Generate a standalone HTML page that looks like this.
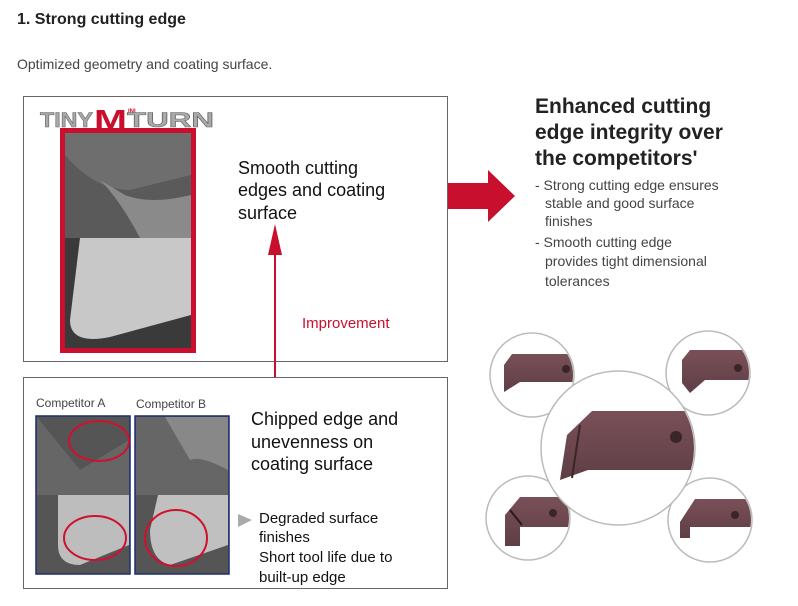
<!DOCTYPE html>
<html><head><meta charset="utf-8"><style>
body{margin:0;background:#fff;width:798px;height:601px;overflow:hidden;font-family:"Liberation Sans",sans-serif}
</style></head><body>
<svg width="798" height="601" viewBox="0 0 798 601" xmlns="http://www.w3.org/2000/svg" font-family="Liberation Sans, sans-serif">
<defs>
<linearGradient id="br" x1="0" y1="0" x2="0" y2="1"><stop offset="0" stop-color="#7a5058"/><stop offset="1" stop-color="#5e3e45"/></linearGradient>
<clipPath id="c1"><circle cx="532" cy="375" r="41"/></clipPath>
<clipPath id="c2"><circle cx="708" cy="373" r="41"/></clipPath>
<clipPath id="c3"><circle cx="528" cy="518" r="41"/></clipPath>
<clipPath id="c4"><circle cx="710" cy="520" r="41"/></clipPath>
<clipPath id="c5"><circle cx="618" cy="448" r="76"/></clipPath>
</defs>
<text x="17" y="24" font-size="16" font-weight="bold" fill="#222">1. Strong cutting edge</text>
<text x="17" y="69" font-size="14" fill="#444">Optimized geometry and coating surface.</text>

<!-- top box -->
<rect x="23.5" y="96.5" width="424" height="265" fill="#fff" stroke="#666" stroke-width="1"/>
<text x="40" y="127" font-size="21" font-weight="bold" fill="#aaa" stroke="#666" stroke-width="0.6" textLength="53" lengthAdjust="spacingAndGlyphs">TINY</text>
<text x="94" y="129" font-size="28" font-weight="bold" fill="#c8102e" textLength="33" lengthAdjust="spacingAndGlyphs">M</text>
<text x="128" y="113" font-size="6" font-weight="bold" fill="#c8102e">INI</text>
<text x="127" y="127" font-size="21" font-weight="bold" fill="#aaa" stroke="#666" stroke-width="0.6" textLength="87" lengthAdjust="spacingAndGlyphs">TURN</text>
<rect x="60" y="128" width="136" height="225" fill="#c8102e"/>
<rect x="65" y="133" width="126" height="105" fill="#5a5a5a"/>
<path d="M65 133 L191 133 L191 175 Q150 185 130 190 Q95 190 65 155Z" fill="#6e6e6e"/>
<path d="M100 180 Q120 200 140 238 L191 238 L191 195 Q150 205 125 195Z" fill="#8a8a8a"/>
<rect x="65" y="238" width="126" height="110" fill="#3a3a3a"/>
<path d="M80 238 L191 238 L191 315 L110 337 Q70 345 70 320 Z" fill="#c8c8c8"/>

<text font-size="18" fill="#111"><tspan x="238" y="174">Smooth cutting</tspan><tspan x="238" y="196">edges and coating</tspan><tspan x="238" y="219">surface</tspan></text>
<text x="302" y="328" font-size="15" fill="#c8102e">Improvement</text>
<line x1="275" y1="250" x2="275" y2="405" stroke="#c8102e" stroke-width="2"/>
<polygon points="275,224 268,255 282,255" fill="#c8102e"/>

<!-- bottom box -->
<rect x="23.5" y="377.5" width="424" height="211" fill="#fff" stroke="#666" stroke-width="1"/>
<text x="36" y="407" font-size="12" fill="#444">Competitor A</text>
<text x="136" y="408" font-size="12" fill="#444">Competitor B</text>
<rect x="36" y="416" width="94" height="158" fill="#666" stroke="#1a2a6c" stroke-width="1.5"/>
<path d="M37 417 L129 417 L129 440 L80 470 Z" fill="#555"/>
<rect x="37" y="495" width="92" height="78" fill="#555"/>
<path d="M58 495 L129 495 L129 545 L80 565 Q58 565 58 545Z" fill="#bdbdbd"/>
<rect x="135" y="416" width="94" height="158" fill="#666" stroke="#1a2a6c" stroke-width="1.5"/>
<path d="M165 417 L228 417 L228 470 Q200 455 190 460Z" fill="#888"/>
<rect x="136" y="495" width="92" height="78" fill="#555"/>
<path d="M158 495 L228 495 L228 545 L170 565 Q150 560 150 530Z" fill="#c0c0c0"/>
<ellipse cx="99" cy="441" rx="30" ry="20" fill="none" stroke="#d0102e" stroke-width="2"/>
<ellipse cx="95" cy="538" rx="31" ry="22" fill="none" stroke="#d0102e" stroke-width="2"/>
<ellipse cx="176" cy="538" rx="31" ry="28" fill="none" stroke="#d0102e" stroke-width="2"/>
<text font-size="18" fill="#111"><tspan x="251" y="425">Chipped edge and</tspan><tspan x="251" y="448">unevenness on</tspan><tspan x="251" y="470">coating surface</tspan></text>
<polygon points="238,514 238,527 252,520" fill="#aaa"/>
<text font-size="15" fill="#111"><tspan x="259" y="523">Degraded surface</tspan><tspan x="259" y="542">finishes</tspan><tspan x="259" y="562">Short tool life due to</tspan><tspan x="259" y="582">built-up edge</tspan></text>

<!-- big arrow -->
<polygon points="448,183 488,183 488,170 515,196 488,222 488,209 448,209" fill="#c8102e"/>

<text font-size="21" fill="#222" font-weight="bold"><tspan x="535" y="113">Enhanced cutting</tspan><tspan x="535" y="139">edge integrity over</tspan><tspan x="535" y="165">the competitors'</tspan></text>
<text font-size="14" fill="#444"><tspan x="535" y="190">- Strong cutting edge ensures</tspan><tspan x="545" y="208">stable and good surface</tspan><tspan x="545" y="226">finishes</tspan><tspan x="535" y="247">- Smooth cutting edge</tspan><tspan x="545" y="266">provides tight dimensional</tspan><tspan x="545" y="286">tolerances</tspan></text>

<!-- circles -->
<g stroke="#bbb" stroke-width="1.5" fill="#fff">
<circle cx="532" cy="375" r="42"/>
<circle cx="708" cy="373" r="42"/>
<circle cx="528" cy="518" r="42"/>
<circle cx="710" cy="520" r="42"/>
</g>
<g clip-path="url(#c1)"><path d="M512 354 L580 354 L580 382 L520 382 L504 392 L504 365Z" fill="url(#br)"/>
<circle cx="566" cy="369" r="4" fill="#3a2529"/></g>
<g clip-path="url(#c2)"><path d="M690 350 L760 350 L760 380 L705 380 L690 393 L682 383 L682 360Z" fill="url(#br)"/>
<circle cx="738" cy="368" r="4" fill="#3a2529"/></g>
<g clip-path="url(#c3)"><path d="M520 497 L580 497 L580 527 L520 527 L520 546 L505 546 L505 515Z" fill="url(#br)"/>
<line x1="510" y1="510" x2="522" y2="525" stroke="#2a1a1d" stroke-width="2"/>
<circle cx="553" cy="513" r="4" fill="#3a2529"/></g>
<g clip-path="url(#c4)"><path d="M695 499 L760 499 L760 527 L690 527 L690 538 L680 538 L680 522Z" fill="url(#br)"/>
<circle cx="735" cy="515" r="4" fill="#3a2529"/></g>
<circle cx="618" cy="448" r="77" fill="#fff" stroke="#bbb" stroke-width="1.5"/>
<g clip-path="url(#c5)"><path d="M592 411 L700 411 L700 470 L588 470 L560 480 L567 435Z" fill="url(#br)"/>
<line x1="580" y1="425" x2="572" y2="478" stroke="#3a2529" stroke-width="2"/>
<circle cx="676" cy="437" r="6" fill="#3a2529"/></g>
</svg>
</body></html>
